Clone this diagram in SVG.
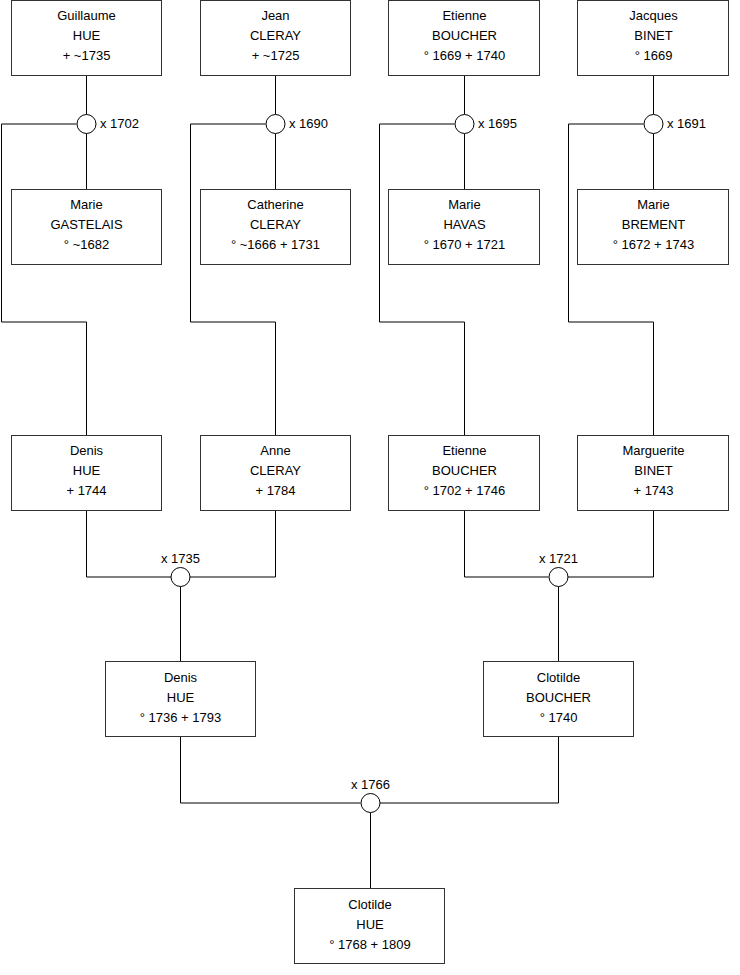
<svg xmlns="http://www.w3.org/2000/svg" width="740" height="975" viewBox="0 0 740 975">
<style>
.box{fill:#fff;stroke:#333;stroke-width:1}
.t{font-family:"Liberation Sans",Arial,sans-serif;font-size:13px;fill:#000;text-anchor:middle}
.l{font-family:"Liberation Sans",Arial,sans-serif;font-size:13px;fill:#000}
.c{fill:none;stroke:#000;stroke-width:1}
.m{fill:#fff;stroke:#000;stroke-width:1}
</style>
<rect width="740" height="975" fill="#fff"/>
<g id="connectors">
<path class="c" d="M86.5 76V114.5M86.5 133.5V189M76.5 124H1.5V322H86.5V435"/>
<path class="c" d="M275.5 76V114.5M275.5 133.5V189M265.5 124H190.5V322H275.5V435"/>
<path class="c" d="M464.5 76V114.5M464.5 133.5V189M454.5 124H379.5V322H464.5V435"/>
<path class="c" d="M653.5 76V114.5M653.5 133.5V189M643.5 124H568.5V322H653.5V435"/>
<path class="c" d="M86.5 510V577H171M190 577H275.5V510M180.5 586.5V661.5"/>
<path class="c" d="M464.5 510V577H548.5M567.5 577H653.5V510M558.5 586.5V661.5"/>
<path class="c" d="M180.5 737V803H360.5M379.5 803H558.5V737M370.5 812.5V888"/>
<circle class="m" cx="86.5" cy="124" r="9.5"/>
<circle class="m" cx="275.5" cy="124" r="9.5"/>
<circle class="m" cx="464.5" cy="124" r="9.5"/>
<circle class="m" cx="653.5" cy="124" r="9.5"/>
<circle class="m" cx="180.5" cy="577" r="9.5"/>
<circle class="m" cx="558.5" cy="577" r="9.5"/>
<circle class="m" cx="370.5" cy="803" r="9.5"/>
<text class="l" x="100" y="128">x 1702</text>
<text class="l" x="289" y="128">x 1690</text>
<text class="l" x="478" y="128">x 1695</text>
<text class="l" x="667" y="128">x 1691</text>
<text class="t" x="180.5" y="563">x 1735</text>
<text class="t" x="558.5" y="563">x 1721</text>
<text class="t" x="370.5" y="789">x 1766</text>
</g>
<g id="guillaume-hue"><rect class="box" x="11.5" y="0.5" width="150" height="75"/><text class="t" x="86.5" y="19.5">Guillaume</text><text class="t" x="86.5" y="39.5">HUE</text><text class="t" x="86.5" y="59.5">+ ~1735</text></g>
<g id="jean-cleray"><rect class="box" x="200.5" y="0.5" width="150" height="75"/><text class="t" x="275.5" y="19.5">Jean</text><text class="t" x="275.5" y="39.5">CLERAY</text><text class="t" x="275.5" y="59.5">+ ~1725</text></g>
<g id="etienne-boucher-1"><rect class="box" x="388.5" y="0.5" width="151" height="75"/><text class="t" x="464.5" y="19.5">Etienne</text><text class="t" x="464.5" y="39.5">BOUCHER</text><text class="t" x="464.5" y="59.5">° 1669 + 1740</text></g>
<g id="jacques-binet"><rect class="box" x="577.5" y="0.5" width="151" height="75"/><text class="t" x="653.5" y="19.5">Jacques</text><text class="t" x="653.5" y="39.5">BINET</text><text class="t" x="653.5" y="59.5">° 1669</text></g>
<g id="marie-gastelais"><rect class="box" x="11.5" y="189.5" width="150" height="75"/><text class="t" x="86.5" y="209">Marie</text><text class="t" x="86.5" y="229">GASTELAIS</text><text class="t" x="86.5" y="249">° ~1682</text></g>
<g id="catherine-cleray"><rect class="box" x="200.5" y="189.5" width="150" height="75"/><text class="t" x="275.5" y="209">Catherine</text><text class="t" x="275.5" y="229">CLERAY</text><text class="t" x="275.5" y="249">° ~1666 + 1731</text></g>
<g id="marie-havas"><rect class="box" x="388.5" y="189.5" width="151" height="75"/><text class="t" x="464.5" y="209">Marie</text><text class="t" x="464.5" y="229">HAVAS</text><text class="t" x="464.5" y="249">° 1670 + 1721</text></g>
<g id="marie-brement"><rect class="box" x="577.5" y="189.5" width="151" height="75"/><text class="t" x="653.5" y="209">Marie</text><text class="t" x="653.5" y="229">BREMENT</text><text class="t" x="653.5" y="249">° 1672 + 1743</text></g>
<g id="denis-hue-1"><rect class="box" x="11.5" y="435.5" width="150" height="75"/><text class="t" x="86.5" y="455">Denis</text><text class="t" x="86.5" y="475">HUE</text><text class="t" x="86.5" y="495">+ 1744</text></g>
<g id="anne-cleray"><rect class="box" x="200.5" y="435.5" width="150" height="75"/><text class="t" x="275.5" y="455">Anne</text><text class="t" x="275.5" y="475">CLERAY</text><text class="t" x="275.5" y="495">+ 1784</text></g>
<g id="etienne-boucher-2"><rect class="box" x="388.5" y="435.5" width="151" height="75"/><text class="t" x="464.5" y="455">Etienne</text><text class="t" x="464.5" y="475">BOUCHER</text><text class="t" x="464.5" y="495">° 1702 + 1746</text></g>
<g id="marguerite-binet"><rect class="box" x="577.5" y="435.5" width="151" height="75"/><text class="t" x="653.5" y="455">Marguerite</text><text class="t" x="653.5" y="475">BINET</text><text class="t" x="653.5" y="495">+ 1743</text></g>
<g id="denis-hue-2"><rect class="box" x="105.5" y="661.5" width="150" height="75"/><text class="t" x="180.5" y="682">Denis</text><text class="t" x="180.5" y="702">HUE</text><text class="t" x="180.5" y="722">° 1736 + 1793</text></g>
<g id="clotilde-boucher"><rect class="box" x="483.5" y="661.5" width="150" height="75"/><text class="t" x="558.5" y="682">Clotilde</text><text class="t" x="558.5" y="702">BOUCHER</text><text class="t" x="558.5" y="722">° 1740</text></g>
<g id="clotilde-hue"><rect class="box" x="294.5" y="888.5" width="150" height="75"/><text class="t" x="370" y="909">Clotilde</text><text class="t" x="370" y="929">HUE</text><text class="t" x="370" y="949">° 1768 + 1809</text></g>
</svg>
